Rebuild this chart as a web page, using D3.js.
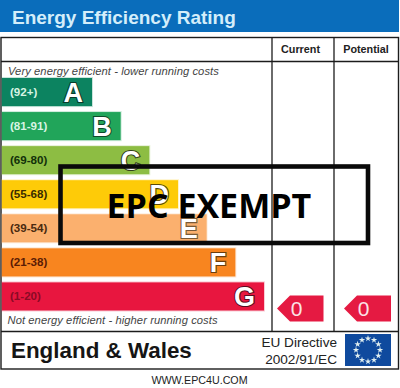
<!DOCTYPE html>
<html><head><meta charset="utf-8">
<script src="https://cdn.jsdelivr.net/npm/d3@7"></script>
<style>html,body{margin:0;padding:0;background:#fff}svg{display:block}text{font-family:"Liberation Sans",Arial,sans-serif}</style>
</head><body><svg id="c" width="400" height="388"></svg>
<script>
const title = "Energy Efficiency Rating";
const bands = ["A","B","C","D","E","F","G"];
const ranges = ["(92+)","(81-91)","(69-80)","(55-68)","(39-54)","(21-38)","(1-20)"];
const ranks = [1,2,3,4,5,6,7];
const bandColors = ["#0c8360","#21a55a","#8dbd43","#fecb08","#fbb06e","#f8851f","#e8163f"];
const rangeColors = ["#d8f4e4","#d8f4e4","#12300a","#3a2c00","#4a2a10","#5a1c05","#8a0a25"];
const letterStroke = ["#0a3b2a","#0d4a2a","#33401a","#5a4a08","#7a5a38","#6a3e10","#5a0c20"];
const columns = ["Current","Potential"];
const currentRating = [0];
const potentialRating = [0];
const topNote = "Very energy efficient - lower running costs";
const bottomNote = "Not energy efficient - higher running costs";
const region = "England & Wales";
const directive = ["EU Directive","2002/91/EC"];
const stamp = "EPC EXEMPT";
const site = "WWW.EPC4U.COM";
const starIndex = d3.range(12);

const svg = d3.select("#c");
const len = d3.scaleLinear().domain([1,7]).range([90,262]);
const y = d3.scaleBand().domain(bands).range([78,310.5]).paddingInner(0.175).paddingOuter(0);
const colX = d3.scaleBand().domain(columns).range([272,396]);

svg.append("rect").attr("x",0).attr("y",0).attr("width",399).attr("height",32).attr("fill","#0a6dbb");
svg.append("text").text(title).attr("x",12).attr("y",23.5).attr("font-size",19).attr("font-weight",700).attr("fill","#d4eefa");

const ink="#1c1c1c";
svg.append("rect").attr("x",1).attr("y",37.5).attr("width",397.5).attr("height",331.5).attr("fill","#fff").attr("stroke",ink).attr("stroke-width",1.4);
[[1,399,61.5,61.5],[1,399,331.5,331.5],[272,272,37,331],[334,334,37,331]].forEach(l=>
  svg.append("line").attr("x1",l[0]).attr("x2",l[1]).attr("y1",l[2]).attr("y2",l[3]).attr("stroke",ink).attr("stroke-width",1.3));

svg.selectAll(".hd").data(columns).join("text").attr("class","hd").text(d=>d)
  .attr("x",d=>colX(d)+colX.bandwidth()/2+(d==="Potential"?1:-2.5)).attr("y",53).attr("text-anchor","middle")
  .attr("font-size",10.8).attr("font-weight",700).attr("fill","#222");

svg.append("text").text(topNote).attr("x",8).attr("y",74.5).attr("font-size",11.2).attr("letter-spacing",0.07).attr("font-style","italic").attr("fill","#444");
svg.append("text").text(bottomNote).attr("x",7.5).attr("y",324).attr("font-size",11.2).attr("letter-spacing",0.07).attr("font-style","italic").attr("fill","#444");

const g = svg.selectAll(".band").data(bands).join("g").attr("class","band");
g.append("rect").attr("x",2).attr("y",d=>y(d)).attr("width",(d,i)=>len(ranks[i])).attr("height",y.bandwidth())
  .attr("fill",(d,i)=>bandColors[i]).attr("stroke",(d,i)=>bandColors[i]).attr("stroke-opacity",0.22).attr("stroke-width",2);
g.append("text").text((d,i)=>ranges[i]).attr("x",10).attr("y",d=>y(d)+y.bandwidth()/2+4)
  .attr("font-size",11.6).attr("font-weight",700).attr("fill",(d,i)=>rangeColors[i]);
g.append("text").text(d=>d).attr("x",(d,i)=>2+len(ranks[i])-9).attr("y",d=>y(d)+y.bandwidth()/2+9.5)
  .attr("text-anchor","end").attr("font-size",27).attr("font-weight",700).attr("fill","#fff")
  .attr("stroke",(d,i)=>letterStroke[i]).attr("stroke-width",2.2).attr("paint-order","stroke");

// rating pointers
function pointer(x, w, v){
  const py=295.5, h=26, mid=py+h/2, tip=9;
  const gp=svg.append("g");
  gp.append("path").attr("d",d3.line()([[x,mid],[x+tip+4,py],[x+w,py],[x+w,py+h],[x+tip+4,py+h]])+"Z").attr("fill","#e51a42");
  gp.append("text").text(v).attr("x",x+tip+10.5).attr("y",mid+7.5).attr("text-anchor","middle").attr("font-size",21).attr("fill","#fbe3e6");
}
pointer(277,46.5,currentRating[0]);
pointer(344,47,potentialRating[0]);

svg.append("text").text(region).attr("x",11).attr("y",358).attr("font-size",22.4).attr("font-weight",700).attr("fill","#151515");
svg.selectAll(".dir").data(directive).join("text").attr("class","dir").text(d=>d)
  .attr("x",337).attr("y",(d,i)=>i?363.5:347).attr("text-anchor","end").attr("font-size",13.6).attr("fill","#222");

// EU flag
svg.append("rect").attr("x",345).attr("y",334).attr("width",46).attr("height",32).attr("fill","#0f4a9e");
const ang=d3.scaleLinear().domain([0,12]).range([0,2*Math.PI]);
svg.selectAll(".star").data(starIndex).join("path").attr("class","star")
  .attr("d",d3.symbol(d3.symbolStar,13)())
  .attr("transform",d=>`translate(${368+12*Math.sin(ang(d))},${350-11.5*Math.cos(ang(d))})`)
  .attr("fill","#dfeef0");

svg.append("rect").attr("x",60.5).attr("y",166.5).attr("width",307.5).attr("height",76.5).attr("fill","none").attr("stroke","#0a0a0a").attr("stroke-width",4.6);
svg.append("text").text(stamp).attr("x",106.5).attr("y",217.5).attr("style","font-family:'Open Sans'").attr("font-size",34).attr("font-weight",700).attr("fill","#000");

svg.append("text").text(site).attr("x",199.5).attr("y",384).attr("text-anchor","middle").attr("font-size",10.7).attr("fill","#222");
</script></body></html>
